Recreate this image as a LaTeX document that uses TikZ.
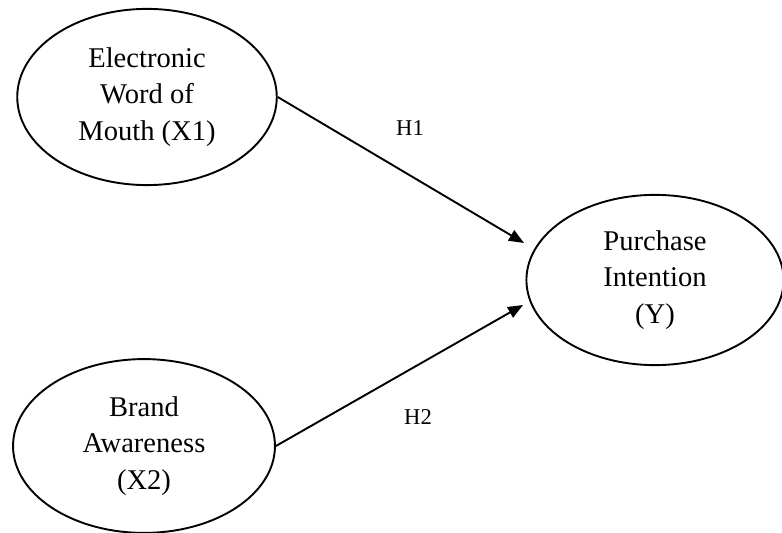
\documentclass[tikz,border=0pt]{standalone}
\usepackage{fontspec}
\setmainfont{Liberation Serif}
\usetikzlibrary{shapes.geometric, arrows.meta}

\begin{document}
\begin{tikzpicture}[x=0.42pt, y=-0.42pt, line width=0.8pt,
    construct/.style={ellipse, draw, inner sep=0pt, align=center,
        font=\fontsize{12}{15.3}\selectfont},
    hyp/.style={-{Triangle[length=6.3pt, width=5pt]}},
    hlabel/.style={font=\fontsize{9.5}{11}\selectfont}]
    \useasboundingbox (0,0) rectangle (782,533);
    % Define constructs
    \node[construct, minimum width=109pt, minimum height=74pt] (X1) at (147,97) {Electronic\\Word of\\Mouth (X1)};
    \node[construct, minimum width=110pt, minimum height=73pt] (X2) at (144,446) {Brand\\Awareness\\(X2)};
    \node[construct, minimum width=108pt, minimum height=71.5pt] (Y) at (655,280) {Purchase\\Intention\\(Y)};
    \coordinate (Yin1) at (524,243);
    \coordinate (Yin2) at (523,305);
    
    % Define hypotheses
    \draw[hyp] (X1.east) -- (Yin1);
    \draw[hyp] (X2.east) -- (Yin2);
    \node[hlabel] (H1) at (410,128) {H1};
    \node[hlabel] (H2) at (418,417) {H2};
\end{tikzpicture}
\end{document}
